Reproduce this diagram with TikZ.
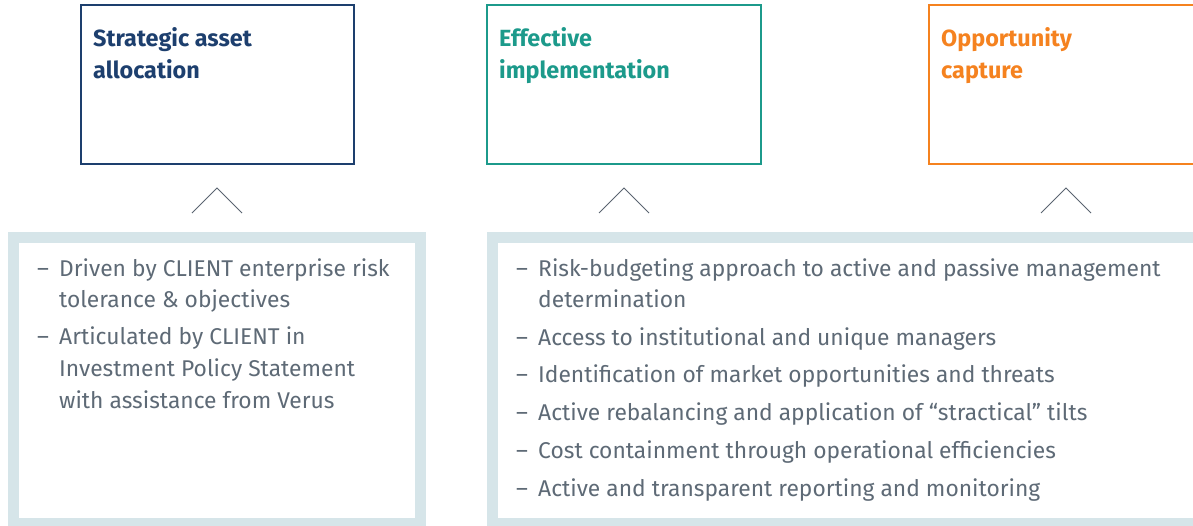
\documentclass[tikz,border=0pt]{standalone}
\usepackage{fontspec}
\setmainfont{Fira Sans}
\definecolor{sablue}{HTML}{1D3F6E}
\definecolor{teal}{HTML}{1C9A8B}
\definecolor{orng}{HTML}{F5821F}
\definecolor{frm}{HTML}{D6E5E9}
\definecolor{txt}{HTML}{5E6A76}
\definecolor{chv}{HTML}{5A6470}
\begin{document}
\begin{tikzpicture}[x=1pt,y=-1pt,
  topbox/.style={draw, line width=1.4pt, minimum height=159pt, anchor=north west, inner sep=0pt, outer sep=0pt, fill=white},
  ttl/.style={font=\fontsize{23.4}{26}\selectfont\bfseries, anchor=base west, inner sep=0pt},
  chev/.style={draw=chv, line width=0.9pt},
  frame/.style={draw=frm, line width=11pt, fill=white, anchor=north west, inner sep=0pt, outer sep=0pt},
  body/.style={font=\fontsize{22.8}{25}\selectfont, text=txt, anchor=base west, inner sep=0pt}]
\useasboundingbox (0,0) rectangle (1193,525);
\begin{scope}
\clip (0,0) rectangle (1193,525);
% top boxes
\node[topbox, draw=sablue, minimum width=273pt] (saa) at (81,5) {};
\node[topbox, draw=teal, minimum width=274pt] (ei) at (487,5) {};
\node[topbox, draw=orng, minimum width=300pt] (oc) at (929,5) {};
\node[ttl, text=sablue] (saa1) at (93,46) {Strategic asset};
\node[ttl, text=sablue] (saa2) at (93,78) {allocation};
\node[ttl, text=teal] (ei1) at (499,46) {Effective};
\node[ttl, text=teal] (ei2) at (499,78) {implementation};
\node[ttl, text=orng] (oc1) at (941,46) {Opportunity};
\node[ttl, text=orng] (oc2) at (941,78) {capture};
% chevrons
\coordinate (c1) at (217,188); \coordinate (c1l) at (192,213); \coordinate (c1r) at (242,213);
\coordinate (c2) at (624,188); \coordinate (c2l) at (599,213); \coordinate (c2r) at (649,213);
\coordinate (c3) at (1066,188); \coordinate (c3l) at (1041,213); \coordinate (c3r) at (1091,213);
\draw[chev] (c1l) -- (c1) -- (c1r);
\draw[chev] (c2l) -- (c2) -- (c2r);
\draw[chev] (c3l) -- (c3) -- (c3r);
% bottom frames
\node[frame, minimum width=407pt, minimum height=286pt] (f1) at (13.5,237.5) {};
\node[frame, minimum width=720pt, minimum height=286pt] (f2) at (492,237.5) {};
% text box 1
\node[body] (d1a) at (37,276) {–};
\node[body] (t1a) at (59,276) {Driven by CLIENT enterprise risk};
\node[body] (t1b) at (59,307) {tolerance \& objectives};
\node[body] (d1b) at (37,344) {–};
\node[body] (t1c) at (59,344) {Articulated by CLIENT in};
\node[body] (t1d) at (59,376) {Investment Policy Statement};
\node[body] (t1e) at (59,408) {with assistance from Verus};
% text box 2
\node[body] (d2a) at (516,276) {–};
\node[body] (t2a) at (538,276) {Risk-budgeting approach to active and passive management};
\node[body] (t2b) at (538,307) {determination};
\node[body] (d2b) at (516,345) {–};
\node[body] (t2c) at (538,345) {Access to institutional and unique managers};
\node[body] (d2c) at (516,382) {–};
\node[body] (t2d) at (538,382) {Identification of market opportunities and threats};
\node[body] (d2d) at (516,420) {–};
\node[body] (t2e) at (538,420) {Active rebalancing and application of “stractical” tilts};
\node[body] (d2e) at (516,458) {–};
\node[body] (t2f) at (538,458) {Cost containment through operational efficiencies};
\node[body] (d2f) at (516,496) {–};
\node[body] (t2g) at (538,496) {Active and transparent reporting and monitoring};
\end{scope}
\end{tikzpicture}
\end{document}
